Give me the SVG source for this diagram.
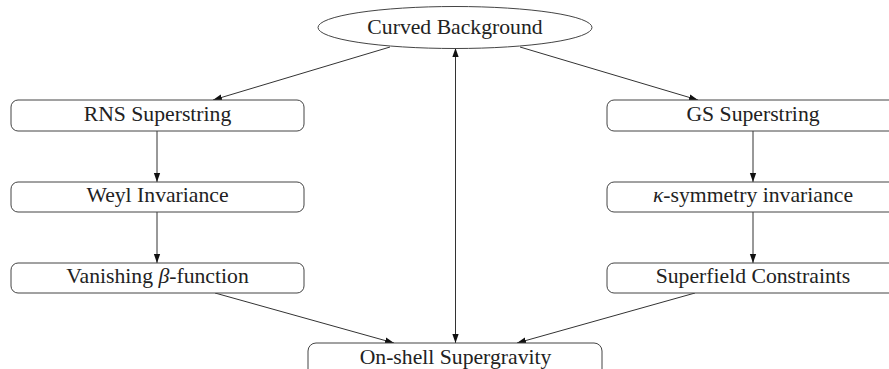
<svg xmlns="http://www.w3.org/2000/svg" width="889" height="369" viewBox="0 0 889 369">
<style>
.box{fill:#fff;stroke:#444;stroke-width:1}
.lbl{font-family:"Liberation Serif","DejaVu Serif",serif;font-size:21.7px;fill:#222;text-anchor:middle}
.con{stroke:#333;stroke-width:1;fill:none;marker-end:url(#ah)}
</style>
<defs>
<marker id="ah" viewBox="0 0 10 10" refX="10" refY="5" markerWidth="9" markerHeight="9" markerUnits="userSpaceOnUse" orient="auto-start-reverse">
<path d="M0,1.5 L10,5 L0,8.5 Z" fill="#111"/>
</marker>
</defs>
<rect width="889" height="369" fill="#fff"/>
<g id="connectors">
<line class="con" x1="390" y1="47" x2="213" y2="100"/>
<line class="con" x1="520" y1="47" x2="698" y2="100"/>
<line class="con" x1="455.5" y1="343" x2="455.5" y2="48" style="marker-start:url(#ah)"/>
<line class="con" x1="157" y1="131" x2="157" y2="182"/>
<line class="con" x1="157" y1="212" x2="157" y2="263"/>
<line class="con" x1="753" y1="131" x2="753" y2="182"/>
<line class="con" x1="753" y1="212" x2="753" y2="263"/>
<line class="con" x1="215" y1="293" x2="394" y2="343"/>
<line class="con" x1="695" y1="293" x2="517" y2="343"/>
</g>
<g id="curved">
<ellipse class="box" cx="455" cy="27.5" rx="137" ry="21"/>
<text class="lbl" x="455" y="33.5">Curved Background</text>
</g>
<g id="rns">
<rect class="box" x="11" y="100" width="293" height="31" rx="7"/>
<text class="lbl" x="157.5" y="121">RNS Superstring</text>
</g>
<g id="weyl">
<rect class="box" x="11" y="182" width="293" height="30" rx="7"/>
<text class="lbl" x="157.5" y="202">Weyl Invariance</text>
</g>
<g id="beta">
<rect class="box" x="11" y="263" width="293" height="30" rx="7"/>
<text class="lbl" x="157.5" y="283">Vanishing <tspan font-style="italic">β</tspan>-function</text>
</g>
<g id="gs">
<rect class="box" x="607" y="100" width="293" height="31" rx="7"/>
<text class="lbl" x="753" y="121">GS Superstring</text>
</g>
<g id="kappa">
<rect class="box" x="607" y="182" width="293" height="30" rx="7"/>
<text class="lbl" x="753" y="202"><tspan font-style="italic">κ</tspan>-symmetry invariance</text>
</g>
<g id="superfield">
<rect class="box" x="607" y="263" width="293" height="30" rx="7"/>
<text class="lbl" x="753" y="283">Superfield Constraints</text>
</g>
<g id="sugra">
<rect class="box" x="308" y="343" width="294" height="40" rx="8"/>
<text class="lbl" x="455.5" y="364">On-shell Supergravity</text>
</g>
</svg>
